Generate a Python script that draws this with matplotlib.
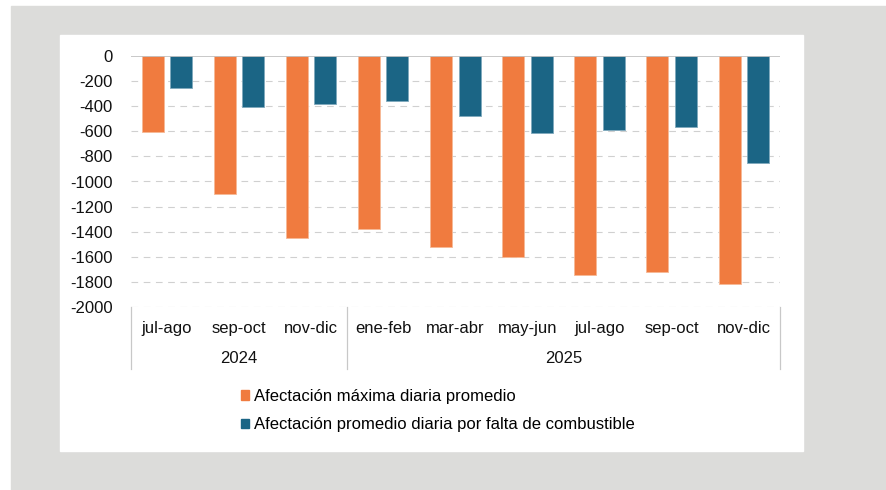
import numpy as np
import matplotlib
matplotlib.use("Agg")
import matplotlib.pyplot as plt
from matplotlib.patches import Rectangle, Patch
import matplotlib.transforms as mtransforms

plt.rcParams['font.family'] = ['Liberation Sans', 'DejaVu Sans']

# Data (bimestres, MW)
periods = ['jul-ago', 'sep-oct', 'nov-dic', 'ene-feb', 'mar-abr',
           'may-jun', 'jul-ago', 'sep-oct', 'nov-dic']
years = ['2024', '2025']
year_counts = [3, 6]
max_daily = [-605, -1100, -1450, -1380, -1520, -1605, -1745, -1725, -1820]
fuel_daily = [-255, -410, -385, -355, -480, -610, -590, -565, -855]
labels = ['Afectación máxima diaria promedio',
          'Afectación promedio diaria por falta de combustible']

orange = '#F07B3F'
blue = '#1B6585'
grid_col = '#D0D0D0'
fs = 12

W, H = 887, 490
fig = plt.figure(figsize=(W / 100, H / 100), dpi=100)
fig.patch.set_facecolor('white')

# background panels (pixel coordinates -> figure fractions)
def px_rect(x0, y0, x1, y1, color):
    fig.patches.append(Rectangle((x0 / W, 1 - y1 / H), (x1 - x0) / W, (y1 - y0) / H,
                                 transform=fig.transFigure, color=color, zorder=-10))

px_rect(11, 6, W, H, '#DCDCDA')
px_rect(60, 35, 803, 451, 'white')

ax = fig.add_axes([131 / W, 1 - 307 / H, (780 - 131) / W, (307 - 56) / H])
ax.set_facecolor('none')

x = np.arange(len(periods))
bw = 0.305
ax.bar(x - 0.2, max_daily, bw, color=orange, edgecolor='#F6B996', linewidth=0.6, zorder=3)
ax.bar(x + 0.195, fuel_daily, bw, color=blue, edgecolor='#7FA9BD', linewidth=0.6, zorder=3)

ax.set_xlim(-0.5, len(periods) - 0.5)
ax.set_ylim(-2000, 0)
yt = np.arange(-2000, 1, 200)
ax.set_yticks(yt)
ax.set_yticklabels([str(v) for v in yt], fontsize=fs, color='#111111')
ax.tick_params(axis='y', length=0, pad=13)
for v in yt:
    if v == 0:
        ax.axhline(v, color='#BFBFBF', lw=1.2, zorder=4)
    else:
        ax.axhline(v, color=grid_col, lw=0.8, linestyle=(0, (6, 5)), zorder=1)

for s in ax.spines.values():
    s.set_visible(False)
ax.set_xticks([])

# category and year labels
trans = mtransforms.blended_transform_factory(ax.transData, ax.transAxes)
for i, p in enumerate(periods):
    ax.text(i, -0.084, p, transform=trans, ha='center', va='center',
            fontsize=fs, color='#111111')
start = 0
bounds = [-0.5]
for yr, n in zip(years, year_counts):
    ax.text(start + (n - 1) / 2, -0.207, yr, transform=trans, ha='center',
            va='center', fontsize=fs, color='#111111')
    start += n
    bounds.append(start - 0.5)
for b in bounds:
    ax.plot([b, b], [0, -0.247], transform=trans, color='#C8C8C8', lw=0.9,
            clip_on=False)

handles = [Patch(color=orange), Patch(color=blue)]
fig.legend(handles, labels, loc='upper left',
           bbox_to_anchor=(241 / W, 1 - 389 / H), frameon=False, fontsize=fs,
           handlelength=0.5, handleheight=0.5, handletextpad=0.25,
           labelspacing=0.8, borderpad=0, borderaxespad=0)

fig.savefig('out.png', dpi=100)
